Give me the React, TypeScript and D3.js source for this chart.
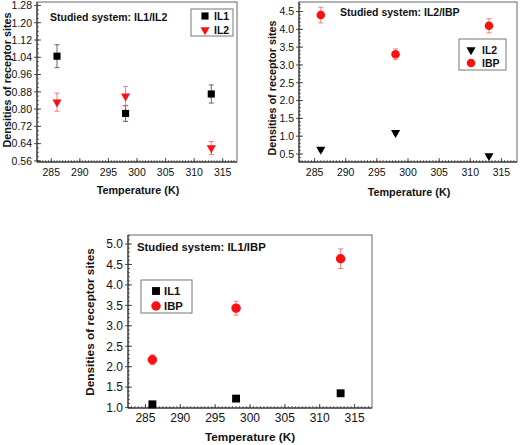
import React from "react";
import * as d3 from "d3";

// ---------- data ----------
const temps = [286, 298, 313];

const p1IL1 = [1.045, 0.78, 0.87];
const p1IL1Err = [0.053, 0.037, 0.042];
const p1IL2 = [0.832, 0.86, 0.62];
const p1IL2Err = [0.042, 0.045, 0.03];

const p2IL2 = [0.63, 1.1, 0.45];
const p2IL2Err = [0.05, 0.05, 0.04];
const p2IBP = [4.4, 3.3, 4.1];
const p2IBPErr = [0.22, 0.15, 0.2];

const p3IL1 = [1.08, 1.22, 1.35];
const p3IL1Err = [0.02, 0.02, 0.02];
const p3IBP = [2.17, 3.43, 4.64];
const p3IBPErr = [0.12, 0.17, 0.24];

const xTicks = [285, 290, 295, 300, 305, 310, 315];
const p1YTicks = [0.56, 0.64, 0.72, 0.8, 0.88, 0.96, 1.04, 1.12, 1.2, 1.28];
const p2YTicks = [0.5, 1.0, 1.5, 2.0, 2.5, 3.0, 3.5, 4.0, 4.5];
const p3YTicks = [1.0, 1.5, 2.0, 2.5, 3.0, 3.5, 4.0, 4.5, 5.0];

const FONT = "'Liberation Sans', Arial, sans-serif";
const RED = "#ff1010";

type Marker = "square" | "tri" | "circle";
type Series = { name: string; ys: number[]; errs: number[]; marker: Marker; color: string; errColor: string };

type PanelProps = {
  box: [number, number, number, number]; // left, top, right, bottom
  xDomain: [number, number];
  yDomain: [number, number];
  yTicks: number[];
  yFmt: string;
  yMinorStep: number;
  series: Series[];
  title: string;
  titlePos: [number, number];
  titleSize: number;
  legend: { box: [number, number, number, number]; sym: [number, number]; textX: number; dy: number };
  tickSize: number;
  labelSize: number;
  yLabelPos: [number, number];
  xLabelPos: [number, number];
  markerScale: number;
};

function MarkerShape({ m, x, y, color, s }: { m: Marker; x: number; y: number; color: string; s: number }) {
  if (m === "square") {
    const a = 7.5 * s;
    return <rect x={x - a / 2} y={y - a / 2} width={a} height={a} fill={color} />;
  }
  if (m === "circle") {
    return <circle cx={x} cy={y} r={4.5 * s} fill={color} />;
  }
  const p = d3.symbol(d3.symbolTriangle, 40 * s * s)()!;
  return <path d={p} transform={`translate(${x},${y}) rotate(180)`} fill={color} />;
}

function Panel(props: PanelProps) {
  const [L, T, R, B] = props.box;
  const x = d3.scaleLinear().domain(props.xDomain).range([L, R]);
  const y = d3.scaleLinear().domain(props.yDomain).range([B, T]);
  const fmt = d3.format(props.yFmt);
  const xMinor = d3.range(Math.ceil(props.xDomain[0] * 2) / 2, props.xDomain[1], 0.5);
  const yMinor = d3.range(
    Math.ceil(props.yDomain[0] / props.yMinorStep) * props.yMinorStep,
    props.yDomain[1],
    props.yMinorStep
  );
  const lg = props.legend;
  return (
    <g>
      {xMinor.map((v, i) => (
        <line key={"xm" + i} x1={x(v)} x2={x(v)} y1={B} y2={B - 2} stroke="#333" strokeWidth={0.7} />
      ))}
      {yMinor.map((v, i) => (
        <line key={"ym" + i} x1={L} x2={L + 2} y1={y(v)} y2={y(v)} stroke="#333" strokeWidth={0.7} />
      ))}
      {xTicks.map((v) => (
        <g key={"xt" + v}>
          <line x1={x(v)} x2={x(v)} y1={B} y2={B - 4} stroke="#222" strokeWidth={0.8} />
          <text x={x(v)} y={B + 14} fontSize={props.tickSize} textAnchor="middle" fontFamily={FONT} fill="#111">
            {v}
          </text>
        </g>
      ))}
      {props.yTicks.map((v) => (
        <g key={"yt" + v}>
          <line x1={L - 3} x2={L + 4} y1={y(v)} y2={y(v)} stroke="#222" strokeWidth={0.8} />
          <text x={L - 5} y={y(v) + props.tickSize * 0.36} fontSize={props.tickSize} textAnchor="end" fontFamily={FONT} fill="#111">
            {fmt(v)}
          </text>
        </g>
      ))}
      <rect x={L} y={T} width={R - L} height={B - T} fill="none" stroke="#666" strokeWidth={1} />
      <line x1={L} x2={L} y1={T} y2={B} stroke="#222" strokeWidth={1} />
      <line x1={L} x2={R} y1={B} y2={B} stroke="#222" strokeWidth={1} />

      {props.series.map((s) =>
        temps.map((t, i) => {
          const cx = x(t);
          const yt = y(s.ys[i] + s.errs[i]);
          const yb = y(s.ys[i] - s.errs[i]);
          return (
            <g key={s.name + i} stroke={s.errColor} strokeWidth={0.9}>
              <line x1={cx} x2={cx} y1={yt} y2={yb} />
              <line x1={cx - 2.5} x2={cx + 2.5} y1={yt} y2={yt} />
              <line x1={cx - 2.5} x2={cx + 2.5} y1={yb} y2={yb} />
            </g>
          );
        })
      )}
      {props.series.map((s) =>
        temps.map((t, i) => (
          <MarkerShape key={"m" + s.name + i} m={s.marker} x={x(t)} y={y(s.ys[i])} color={s.color} s={props.markerScale} />
        ))
      )}

      <text x={props.titlePos[0]} y={props.titlePos[1]} fontSize={props.titleSize} fontWeight="bold" fontFamily={FONT} fill="#111">
        {props.title}
      </text>

      <rect
        x={lg.box[0]}
        y={lg.box[1]}
        width={lg.box[2] - lg.box[0]}
        height={lg.box[3] - lg.box[1]}
        fill="white"
        stroke="#777"
        strokeWidth={1}
      />
      {props.series.map((s, i) => (
        <g key={"lg" + s.name}>
          <MarkerShape m={s.marker} x={lg.sym[0]} y={lg.sym[1] + i * lg.dy} color={s.color} s={props.markerScale} />
          <text x={lg.textX} y={lg.sym[1] + i * lg.dy + props.titleSize * 0.36} fontSize={props.titleSize} fontWeight="bold" fontFamily={FONT} fill="#111">
            {s.name}
          </text>
        </g>
      ))}

      <text
        transform={`translate(${props.yLabelPos[0]},${props.yLabelPos[1]}) rotate(-90)`}
        textAnchor="middle"
        fontSize={props.labelSize}
        fontWeight="bold"
        fontFamily={FONT}
        fill="#111"
      >
        Densities of receptor sites
      </text>
      <text x={props.xLabelPos[0]} y={props.xLabelPos[1]} textAnchor="middle" fontSize={props.labelSize} fontWeight="bold" fontFamily={FONT} fill="#111">
        Temperature (K)
      </text>
    </g>
  );
}

export default function App() {
  return (
    <svg width={520} height={445} style={{ position: "absolute", left: 0, top: 0, background: "white" }}>
      <Panel
        box={[37, 2, 237, 162]}
        xDomain={[282.5, 317.5]}
        yDomain={[0.555, 1.296]}
        yTicks={p1YTicks}
        yFmt=".2f"
        yMinorStep={0.02}
        series={[
          { name: "IL1", ys: p1IL1, errs: p1IL1Err, marker: "square", color: "#000", errColor: "#555" },
          { name: "IL2", ys: p1IL2, errs: p1IL2Err, marker: "tri", color: RED, errColor: "#f07070" },
        ]}
        title="Studied system: IL1/IL2"
        titlePos={[50, 21]}
        titleSize={10.5}
        legend={{ box: [191, 9, 233, 36], sym: [205, 16], textX: 214, dy: 14 }}
        tickSize={10.5}
        labelSize={10.8}
        yLabelPos={[11, 80]}
        xLabelPos={[138, 194]}
        markerScale={0.95}
      />
      <Panel
        box={[299, 2, 517, 162]}
        xDomain={[282.5, 317.5]}
        yDomain={[0.275, 4.767]}
        yTicks={p2YTicks}
        yFmt=".1f"
        yMinorStep={0.1}
        series={[
          { name: "IL2", ys: p2IL2, errs: p2IL2Err, marker: "tri", color: "#000", errColor: "#555" },
          { name: "IBP", ys: p2IBP, errs: p2IBPErr, marker: "circle", color: RED, errColor: "#f07070" },
        ]}
        title="Studied system: IL2/IBP"
        titlePos={[340, 16]}
        titleSize={10.5}
        legend={{ box: [459, 39, 506, 70], sym: [471, 50], textX: 482, dy: 13 }}
        tickSize={10.5}
        labelSize={10.8}
        yLabelPos={[276, 88]}
        xLabelPos={[409, 196]}
        markerScale={0.95}
      />
      <Panel
        box={[128, 235, 372, 408]}
        xDomain={[282.5, 317.5]}
        yDomain={[0.99, 5.22]}
        yTicks={p3YTicks}
        yFmt=".1f"
        yMinorStep={0.1}
        series={[
          { name: "IL1", ys: p3IL1, errs: p3IL1Err, marker: "square", color: "#000", errColor: "#555" },
          { name: "IBP", ys: p3IBP, errs: p3IBPErr, marker: "circle", color: RED, errColor: "#f07070" },
        ]}
        title="Studied system: IL1/IBP"
        titlePos={[137, 251]}
        titleSize={11.3}
        legend={{ box: [141, 280, 192, 313], sym: [156, 291], textX: 164, dy: 15 }}
        tickSize={12}
        labelSize={11.8}
        yLabelPos={[94, 322]}
        xLabelPos={[250, 441]}
        markerScale={1.05}
      />
    </svg>
  );
}
